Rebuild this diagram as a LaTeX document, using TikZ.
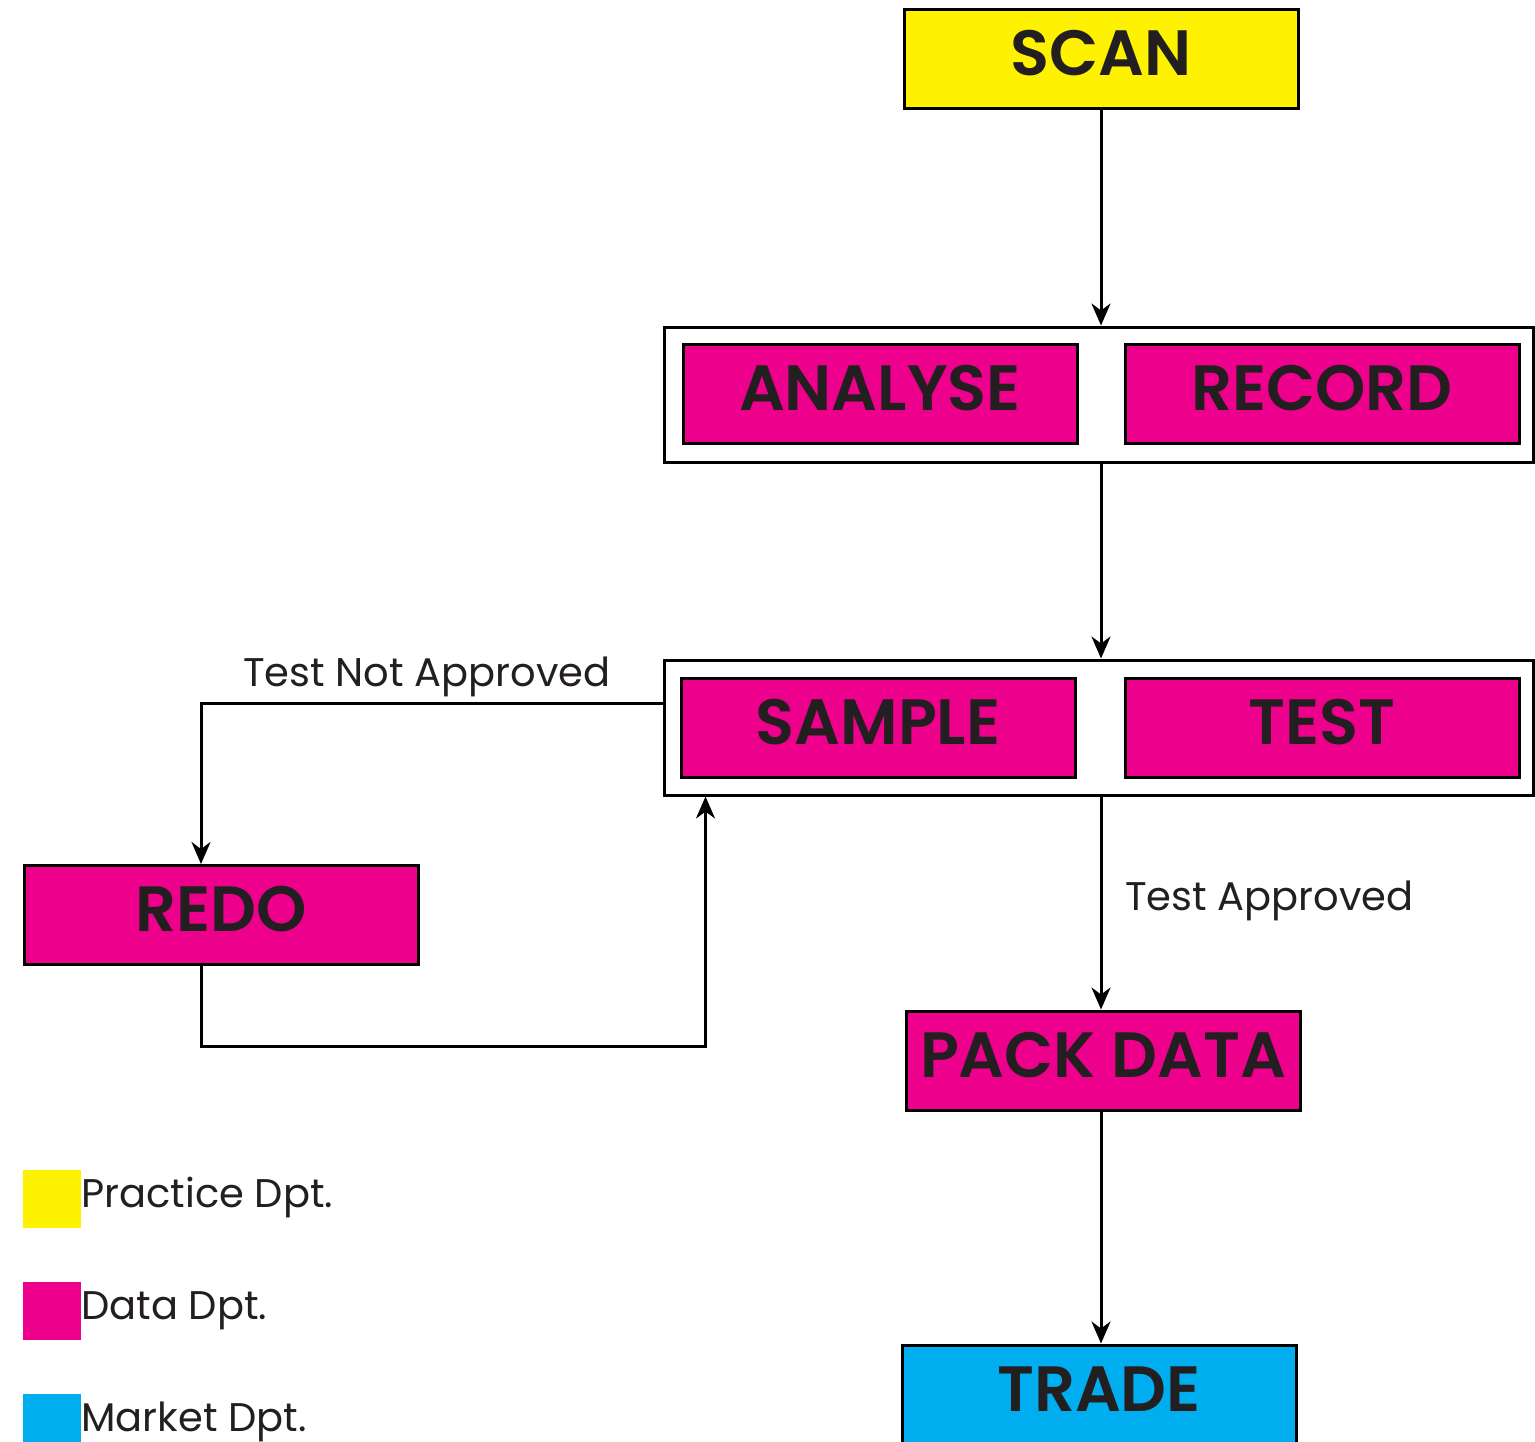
\documentclass[tikz,border=0pt]{standalone}
\usepackage{fontspec}
\setmainfont{Poppins}[BoldFont={Poppins SemiBold}]
\usetikzlibrary{arrows.meta,positioning}
\definecolor{practice}{HTML}{FFF200}
\definecolor{datadpt}{HTML}{EC008C}
\definecolor{market}{HTML}{00AEEF}
\definecolor{ink}{HTML}{231F20}
\tikzset{
  stepbox/.style={draw=black, line width=3pt, inner sep=0pt,
    minimum width=394pt, text height=66pt, text depth=33pt,
    font=\bfseries\fontsize{64}{64}\selectfont, text=ink},
  groupbox/.style={draw=black, line width=3pt, fill=white, inner sep=0pt,
    minimum width=869pt, minimum height=135pt},
  flow/.style={draw=black, line width=3pt,
    -{Stealth[length=22pt,width=19pt,inset=7pt]}},
  note/.style={font=\fontsize{40}{40}\selectfont, text=ink, inner sep=0pt},
  swatch/.style={inner sep=0pt, minimum size=58pt},
}
\begin{document}
\begin{tikzpicture}[x=1pt,y=-1pt]
\useasboundingbox (0,0) rectangle (1535,1442);

% containers for the paired steps
\node[groupbox] (g1) at (1098.5,394.5) {};
\node[groupbox] (g2) at (1098.5,727.5) {};

% process steps
\node[stepbox, fill=practice] (scan)   at (1101,59.5)  {SCAN};
\node[stepbox, fill=datadpt]  (analyse) at (880,393.5) {ANALYSE};
\node[stepbox, fill=datadpt]  (record)  at (1322,393.5) {RECORD};
\node[stepbox, fill=datadpt]  (sample)  at (878,727.5) {SAMPLE};
\node[stepbox, fill=datadpt]  (test)    at (1322,727.5) {TEST};
\node[stepbox, fill=datadpt]  (redo)    at (221,915)   {REDO};
\node[stepbox, fill=datadpt]  (pack)    at (1103,1060.5) {PACK DATA};
\node[stepbox, fill=market]   (trade)   at (1099,1394.5) {TRADE};

% main spine, kept on one vertical through the SCAN box
\draw[flow] (scan.south) -- (scan.south |- g1.north);
\draw[flow] (scan.south |- g1.south) -- (scan.south |- g2.north);
\draw[flow] (scan.south |- g2.south) -- (scan.south |- pack.north);
\draw[flow] (scan.south |- pack.south) -- (scan.south |- trade.north);

% rework loop
\draw[flow] ([yshift=24pt]g2.west) -| ([xshift=-20pt]redo.north);
\draw[flow] ([xshift=-20pt]redo.south) -- ++(0,80) -| ([xshift=43pt]g2.south west);

% branch labels
\node[note, anchor=base west] (notok) at (243,686) {Test Not Approved};
\node[note, anchor=base west] (ok)    at (1125,910) {Test Approved};

% legend
\node[swatch, fill=practice, anchor=north west] (kp) at (23,1170) {};
\node[swatch, fill=datadpt,  anchor=north west] (kd) at (23,1282) {};
\node[swatch, fill=market,   anchor=north west] (km) at (23,1394) {};
\node[note, anchor=base west] (lp) at (81,1207) {Practice Dpt.};
\node[note, anchor=base west] (ld) at (81,1319) {Data Dpt.};
\node[note, anchor=base west] (lm) at (81,1431) {Market Dpt.};
\end{tikzpicture}
\end{document}
